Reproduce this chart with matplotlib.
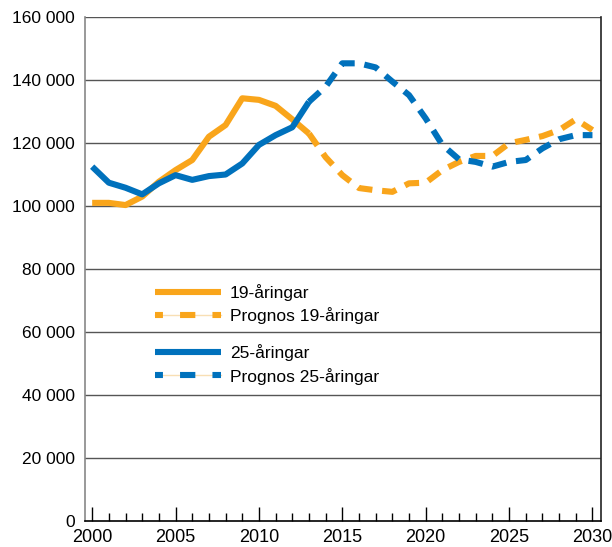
import numpy as np
import matplotlib.pyplot as plt
from matplotlib.lines import Line2D
from matplotlib.ticker import FuncFormatter, MultipleLocator

plt.rcParams['font.family'] = ['Liberation Sans', 'DejaVu Sans']

# Data
years_hist = list(range(2000, 2014))
years_prog = list(range(2013, 2031))

age19 = [101000, 101000, 100300, 103000, 107700, 111400, 114600,
         122000, 125700, 134200, 133700, 131800, 127500, 123000]
age19_prog = [123000, 115500, 109800, 105700, 105000, 104500, 107200, 107400,
              111400, 114000, 115900, 115900, 119900, 121000, 122200, 124100,
              127500, 124100]

age25 = [112500, 107400, 105800, 103700, 107200, 109800, 108300,
         109500, 110000, 113500, 119400, 122500, 125000, 133100]
age25_prog = [133100, 137900, 145300, 145300, 144000, 139500, 135200, 127800,
              119400, 114800, 114000, 112500, 114000, 114600, 118300, 121200,
              122500, 122500]

labels = ['19-åringar', 'Prognos 19-åringar', '25-åringar', 'Prognos 25-åringar']

orange = '#f9a51b'
blue = '#0071bc'
pale = '#f8dfb4'
lw = 4.4
dash = (2.4, 1.6)

fig = plt.figure(figsize=(6.12, 5.47), dpi=100)
ax = fig.add_axes([0.1397, 0.0475, 0.842, 0.9214])

# gridlines
for v in range(20000, 160001, 20000):
    ax.axhline(v, color='#555555', lw=1.0, zorder=1)

ax.plot(years_prog, age19_prog, color=orange, lw=lw, dashes=dash, zorder=3)
ax.plot(years_prog, age25_prog, color=blue, lw=lw, dashes=dash, zorder=3)
ax.plot(years_hist, age19, color=orange, lw=lw, solid_capstyle='butt', zorder=4)
ax.plot(years_hist, age25, color=blue, lw=lw, solid_capstyle='butt', zorder=4)

ax.set_xlim(1999.6, 2030.5)
ax.set_ylim(0, 160000)

ax.xaxis.set_major_locator(MultipleLocator(5))
ax.xaxis.set_minor_locator(MultipleLocator(1))
ax.tick_params(axis='x', which='major', direction='in', length=10, width=1, pad=6, labelsize=13)
ax.tick_params(axis='x', which='minor', direction='in', length=6, width=1)
ax.yaxis.set_major_locator(MultipleLocator(20000))
ax.yaxis.set_major_formatter(FuncFormatter(lambda v, p: f'{int(v):,}'.replace(',', ' ')))
ax.tick_params(axis='y', length=0, pad=7.5, labelsize=12.5)

ax.spines['top'].set_visible(False)
ax.spines['left'].set_color('#888888')
ax.spines['left'].set_linewidth(1.2)
ax.spines['right'].set_color('#222222')
ax.spines['right'].set_linewidth(1.2)
ax.spines['bottom'].set_color('#000000')
ax.spines['bottom'].set_linewidth(1.2)

leg_ls = (1.2, (2.5, 2.8))
h19 = [Line2D([], [], color=orange, lw=lw, solid_capstyle='butt'),
       (Line2D([], [], color=pale, lw=1.0),
        Line2D([], [], color=orange, lw=lw, ls=leg_ls))]
h25 = [Line2D([], [], color=blue, lw=lw, solid_capstyle='butt'),
       (Line2D([], [], color=pale, lw=1.0),
        Line2D([], [], color=blue, lw=lw, ls=leg_ls))]

leg_kw = dict(loc='center left', frameon=False, fontsize=12.5, handlelength=3.8,
              handletextpad=0.55, labelspacing=0.35, borderpad=0, borderaxespad=0)
leg1 = ax.legend(h19, labels[:2], bbox_to_anchor=(0.134, 0.431), **leg_kw)
ax.add_artist(leg1)
ax.legend(h25, labels[2:], bbox_to_anchor=(0.134, 0.3105), **leg_kw)

fig.savefig('out.png', dpi=100)
